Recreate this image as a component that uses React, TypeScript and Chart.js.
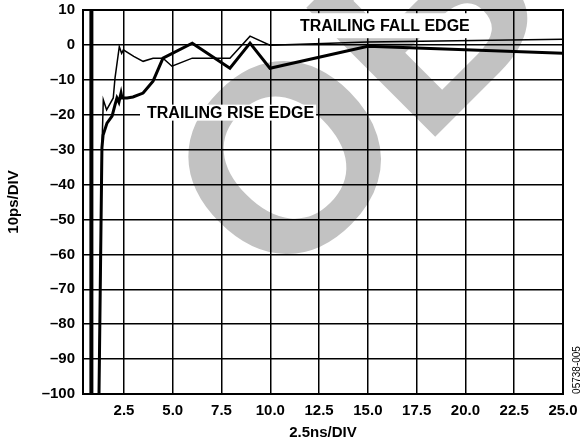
import React, { useEffect, useRef } from "react";
import { Chart, registerables } from "chart.js";

Chart.register(...registerables);

const FONT = "'Liberation Sans', Arial, Helvetica, sans-serif";

// axis ticks
const xTicks = [2.5, 5, 7.5, 10, 12.5, 15, 17.5, 20, 22.5, 25];
const yTicks = [10, 0, -10, -20, -30, -40, -50, -60, -70, -80, -90, -100];

// steep leading edge (both traces overlapping)
const edgeX = [0.83, 0.83];
const edgeY = [10, -100];

// thick trace
const riseX = [1.22, 1.37, 1.43, 1.63, 1.89, 2.04, 2.14, 2.24, 2.35, 2.4, 2.66, 2.96, 3.48, 3.99, 4.5, 6.0, 7.93, 8.96, 9.98, 15.0, 25.0];
const riseY = [-100, -29.5, -25.8, -22.4, -20.4, -17.2, -15.2, -16.4, -13.8, -15.2, -15.2, -14.9, -13.8, -10.4, -3.8, 0.5, -6.7, 0.5, -6.7, -0.4, -2.4];

// thin trace
const fallX = [1.22, 1.36, 1.44, 1.61, 1.95, 2.04, 2.26, 2.38, 2.47, 3.0, 3.48, 3.99, 4.5, 4.96, 6.0, 7.93, 8.96, 9.98, 15.0, 25.0];
const fallY = [-100, -32, -15.7, -18.6, -15.2, -9.5, -0.5, -2.4, -1.4, -3.3, -4.7, -3.8, -3.8, -6.1, -3.8, -3.8, 2.5, -0.1, 0.8, 1.6];

// annotations
const noteTexts = ["TRAILING FALL EDGE", "TRAILING RISE EDGE"];
const noteX = [11.52, 3.68];
const noteY = [5.5, -19.4];

const toPts = (xs: number[], ys: number[]) => xs.map((x, i) => ({ x, y: ys[i] }));

const watermarkPlugin = {
  id: "watermark",
  beforeDraw(chart: any) {
    const ctx = chart.ctx as CanvasRenderingContext2D;
    ctx.save();
    ctx.fillStyle = "#ffffff";
    ctx.fillRect(0, 0, chart.width, chart.height);
    ctx.fillStyle = "#c2c2c2";
    const size = 265;
    ctx.font = `bold ${size}px ${FONT}`;
    ctx.translate(350, 87);
    ctx.rotate(-Math.PI / 4);
    ctx.textAlign = "center";
    ctx.textBaseline = "alphabetic";
    ctx.fillText("OB", 0, size * 0.36);
    ctx.restore();
  },
};

const notesPlugin = {
  id: "notes",
  beforeDatasetsDraw(chart: any) {
    const ctx = chart.ctx as CanvasRenderingContext2D;
    const xs = chart.scales.x;
    const ys = chart.scales.y;
    const padL = [4, 7];
    const padR = [4, 2];
    const padV = [12.5, 8];
    ctx.save();
    ctx.font = `bold 16px ${FONT}`;
    ctx.textAlign = "left";
    ctx.textBaseline = "alphabetic";
    noteTexts.forEach((t, i) => {
      const px = xs.getPixelForValue(noteX[i]);
      const py = ys.getPixelForValue(noteY[i]);
      const w = ctx.measureText(t).width;
      ctx.fillStyle = "#ffffff";
      ctx.fillRect(px - padL[i], py - padV[i], w + padL[i] + padR[i], padV[i] * 2);
      ctx.fillStyle = "#000000";
      ctx.fillText(t, px, py + 16 * 0.36);
    });
    ctx.restore();
  },
  afterDatasetsDraw(chart: any) {
    const ctx = chart.ctx as CanvasRenderingContext2D;
    const a = chart.chartArea;
    ctx.save();
    ctx.strokeStyle = "#000";
    ctx.lineWidth = 2;
    ctx.strokeRect(a.left, a.top, a.right - a.left, a.bottom - a.top);
    ctx.restore();
  },
  afterDraw(chart: any) {
    const ctx = chart.ctx as CanvasRenderingContext2D;
    ctx.save();
    ctx.fillStyle = "#000";
    ctx.font = `10px ${FONT}`;
    ctx.translate(577, 370);
    ctx.rotate(-Math.PI / 2);
    ctx.textAlign = "center";
    ctx.textBaseline = "middle";
    ctx.fillText("05738-005", 0, 0);
    ctx.restore();
  },
};

const zeroPad = (s: any) => {
  s.paddingTop = 0;
  s.paddingBottom = 0;
  s.paddingLeft = 0;
  s.paddingRight = 0;
};

export default function App() {
  const ref = useRef<HTMLCanvasElement | null>(null);

  useEffect(() => {
    if (!ref.current) return;
    const tickFont = { family: FONT, size: 15, weight: "bold" as const };
    const titleFont = { family: FONT, size: 15, weight: "bold" as const };
    const chart = new Chart(ref.current, {
      type: "line",
      data: {
        datasets: [
          {
            data: toPts(edgeX, edgeY),
            borderColor: "#000",
            borderWidth: 4,
            pointRadius: 0,
            tension: 0,
          },
          {
            data: toPts(fallX, fallY),
            borderColor: "#000",
            borderWidth: 1.5,
            pointRadius: 0,
            tension: 0,
          },
          {
            data: toPts(riseX, riseY),
            borderColor: "#000",
            borderWidth: 3,
            pointRadius: 0,
            tension: 0,
          },
        ],
      },
      options: {
        animation: false,
        responsive: false,
        devicePixelRatio: 1,
        layout: { padding: { left: 0, right: 19, top: 10, bottom: 0 } },
        plugins: {
          legend: { display: false },
          tooltip: { enabled: false },
        },
        scales: {
          x: {
            type: "linear",
            min: 0.4,
            max: 25,
            afterBuildTicks: (s: any) => {
              s.ticks = xTicks.map((v) => ({ value: v }));
            },
            afterFit: (s: any) => {
              s.height = 50;
              zeroPad(s);
            },
            ticks: {
              autoSkip: false,
              maxRotation: 0,
              padding: 8,
              color: "#000",
              font: tickFont,
              callback: (v: any) => Number(v).toFixed(1),
            },
            grid: { color: "#000", lineWidth: 1.5, drawTicks: false },
            border: { display: true, color: "#000", width: 2 },
            title: {
              display: true,
              text: "2.5ns/DIV",
              color: "#000",
              font: titleFont,
              padding: { top: 0, bottom: 2 },
            },
          },
          y: {
            type: "linear",
            min: -100,
            max: 10,
            afterBuildTicks: (s: any) => {
              s.ticks = yTicks.map((v) => ({ value: v }));
            },
            afterFit: (s: any) => {
              s.width = 83;
              zeroPad(s);
            },
            ticks: {
              autoSkip: false,
              padding: 8,
              color: "#000",
              font: tickFont,
              callback: (v: any) => (Number(v) < 0 ? "\u2013" + Math.abs(Number(v)) : String(v)),
            },
            grid: { color: "#000", lineWidth: 1.5, drawTicks: false },
            border: { display: true, color: "#000", width: 2 },
            title: {
              display: true,
              text: "10ps/DIV",
              color: "#000",
              font: titleFont,
              padding: { top: 5, bottom: 0 },
            },
          },
        },
      },
      plugins: [watermarkPlugin, notesPlugin],
    });
    return () => chart.destroy();
  }, []);

  return (
    <div style={{ position: "absolute", left: 0, top: 0, width: 582, height: 444 }}>
      <canvas ref={ref} width={582} height={444} style={{ display: "block" }} />
    </div>
  );
}
